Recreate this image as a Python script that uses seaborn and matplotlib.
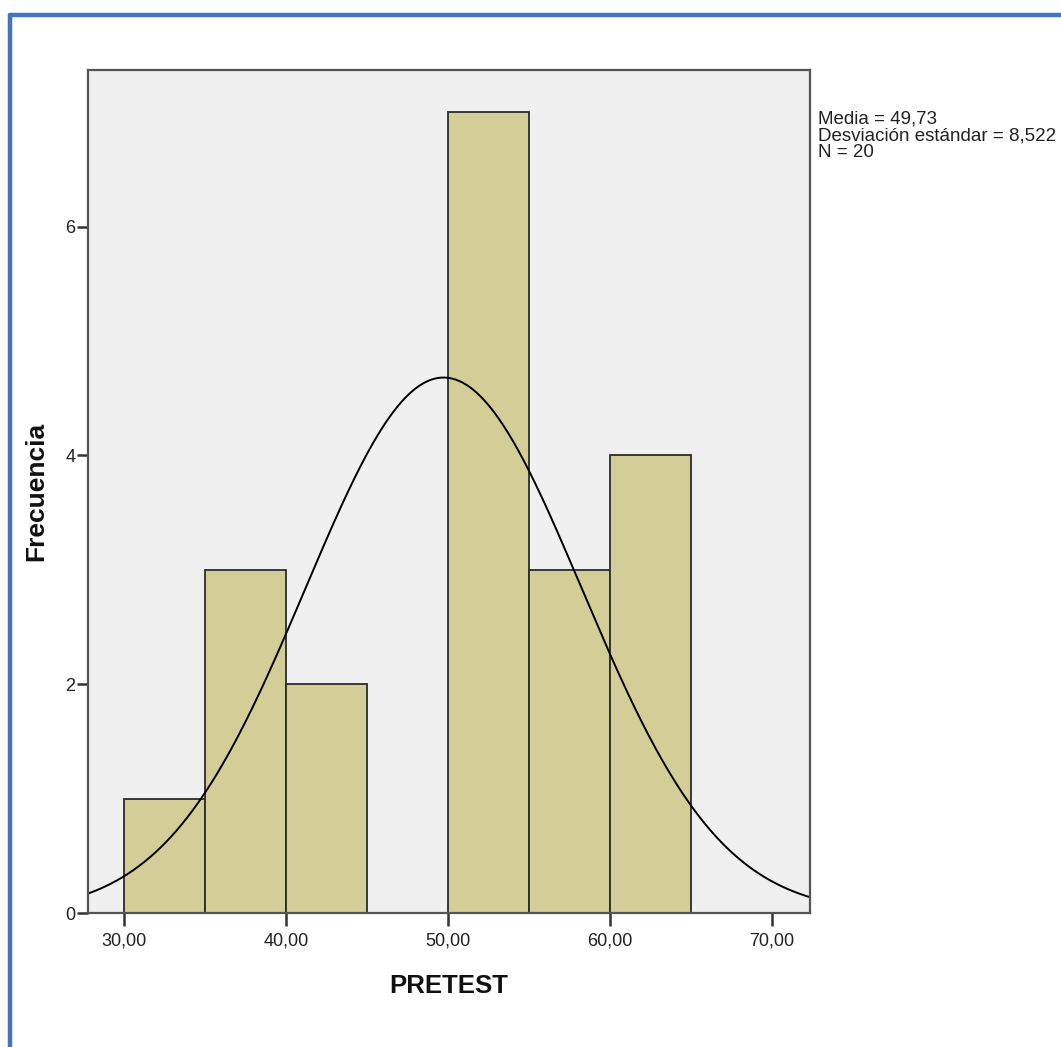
import matplotlib
matplotlib.use("Agg")
import matplotlib.pyplot as plt
import seaborn as sns
import numpy as np
import pandas as pd

# Histogram data
bin_edges = [30, 35, 40, 45, 50, 55, 60, 65]
counts = [1, 3, 2, 0, 7, 3, 4]
media = 49.73
desv = 8.522
n = 20
x_ticks = [30, 40, 50, 60, 70]
y_ticks = [0, 2, 4, 6]

sns.set_style("white")
plt.rcParams['font.family'] = ['Liberation Sans', 'DejaVu Sans']

fig = plt.figure(figsize=(10.61, 10.47), dpi=100)
ax = fig.add_axes([88 / 1061, 1 - 913 / 1047, (810 - 88) / 1061, (913 - 70) / 1047])
ax.set_facecolor('#F0F0F0')

# blue frame around the whole picture
fig.add_artist(plt.Line2D([10 / 1061, 10 / 1061], [0, 1 - 15 / 1047], color='#4472C4', lw=3.2))
fig.add_artist(plt.Line2D([10 / 1061, 1], [1 - 15 / 1047, 1 - 15 / 1047], color='#4472C4', lw=3.2))

centers = [(a + b) / 2 for a, b in zip(bin_edges[:-1], bin_edges[1:])]
df = pd.DataFrame({'PRETEST': centers, 'w': counts})
sns.histplot(data=df, x='PRETEST', weights='w', bins=bin_edges, ax=ax,
             color='#D3CE97', alpha=1, edgecolor='#2b2b2b', linewidth=1.3)

# normal curve scaled to counts
xs = np.linspace(27.78, 72.35, 400)
bw = bin_edges[1] - bin_edges[0]
ys = n * bw / (desv * np.sqrt(2 * np.pi)) * np.exp(-0.5 * ((xs - media) / desv) ** 2)
ax.plot(xs, ys, color='black', lw=1.4)

ax.set_xlim(27.78, 72.35)
ax.set_ylim(0, 7.37)
ax.set_xticks(x_ticks)
ax.set_xticklabels([f"{v:.2f}".replace('.', ',') for v in x_ticks], fontsize=13, color='#222222')
ax.set_yticks(y_ticks)
ax.set_yticklabels([str(v) for v in y_ticks], fontsize=13, color='#222222')
ax.tick_params(axis='both', bottom=True, left=True, direction='out', length=9,
               width=1.8, color='#333333', pad=5)
ax.tick_params(axis='y', length=8, pad=1)
for sp in ax.spines.values():
    sp.set_color('#555555')
    sp.set_linewidth(1.6)

ax.set_xlabel('PRETEST', fontsize=18.5, fontweight='bold', labelpad=18, color='#111111')
ax.set_ylabel('Frecuencia', fontsize=19, fontweight='bold', labelpad=12, color='#111111')

fig.text(818 / 1061, 1 - 111 / 1047,
         f"Media = {media:.2f}\nDesviación estándar = {desv:.3f}\nN = {n}".replace('.', ','),
         fontsize=13.5, color='#222222', va='top', ha='left', linespacing=0.97)

plt.savefig('out.png', dpi=100)
